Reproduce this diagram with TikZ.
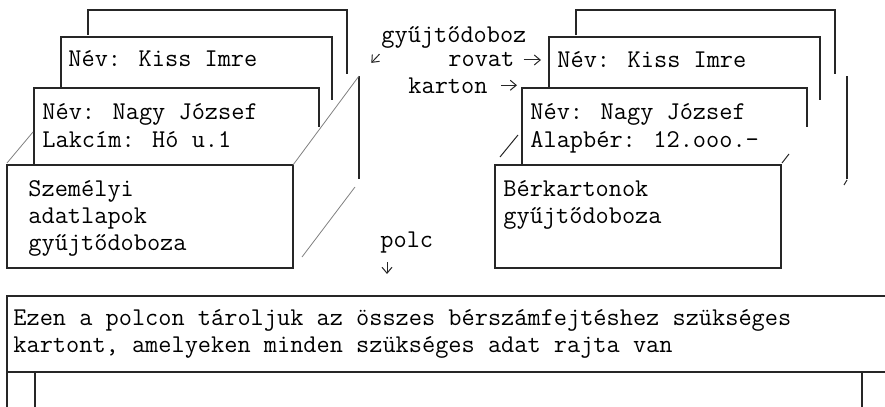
\documentclass[tikz,border=0pt]{standalone}
\usetikzlibrary{arrows.meta}
\tikzset{
  txt/.style={font=\ttfamily\fontsize{12.8}{13.5}\selectfont, anchor=base west, inner sep=0pt, align=left},
  vonal/.style={line width=0.8pt, black!85},
  halvany/.style={line width=0.4pt, black!50},
  nyil/.style={-{Straight Barb[length=3pt,width=5pt]}, line width=0.5pt, black!85}
}
\begin{document}
\begin{tikzpicture}[x=0.5pt,y=-0.5pt]
\useasboundingbox (0,0) rectangle (885,407);
\foreach \s in {0,488} {
  \begin{scope}[shift={(\s,0)}]
  \draw[vonal] (88,35) |- (347,10) -- (347,74);
  \draw[vonal] (61,88) |- (332,37) -- (332,100);
  \draw[vonal] (34,165) |- (319,88) -- (319,127);
  \draw[vonal] (7,165) rectangle (293,268);
  \draw[vonal] (359,76) -- (359,179);
  \end{scope}
}
\draw[halvany] (7,163) -- (33,132);
\draw[halvany] (293,165) -- (359,76);
\draw[halvany] (302,257) -- (355,187);
\draw[vonal, line width=0.5pt] (500,157) -- (518,135);
\draw[vonal, line width=0.5pt] (782,163) -- (789,154);
\draw[vonal, line width=0.5pt] (847,180) -- (844,185);
\draw[vonal] (7,407) |- (885,296);
\draw[vonal] (7,372) -- (885,372);
\draw[vonal] (35,372) -- (35,407);
\draw[vonal] (862,372) -- (862,407);

\node[txt] (kissL) at (68,67) {Név: Kiss Imre};
\node[txt] (nagyL) at (42,147) {Név: Nagy József\\Lakcím: Hó u.1};
\node[txt] (szemelyi) at (28,250) {Személyi\\adatlapok\\gyűjtődoboza};
\node[txt] (kissR) at (557,68) {Név: Kiss Imre};
\node[txt] (nagyR) at (530,147) {Név: Nagy József\\Alapbér: 12.ooo.-};
\node[txt] (berkarton) at (503,223) {Bérkartonok\\gyűjtődoboza};
\node[txt] (doboz) at (381,42) {gyűjtődoboz};
\node[txt] (rovat) at (448,67) {rovat};
\node[txt] (karton) at (408,93) {karton};
\node[txt] (polc) at (380,247) {polc};
\node[txt] (ezen) at (13,352) {Ezen a polcon tároljuk az összes bérszámfejtéshez szükséges\\kartont, amelyeken minden szükséges adat rajta van};

\coordinate (dobozL) at (359,76);
\coordinate (polcL) at (387,296);
\draw[nyil, shorten <=4pt, shorten >=9pt] ([xshift=2pt]doboz.south west) -- (dobozL);
\draw[nyil, shorten <=4.5pt, shorten >=8pt] (rovat.east) -- (rovat.east -| kissR.west);
\draw[nyil, shorten <=6.5pt, shorten >=6.5pt] (karton.east) -- (karton.east -| nagyR.west);
\draw[nyil, shorten <=4.5pt, shorten >=11pt] (polc.south west -| polcL) -- (polcL);
\end{tikzpicture}
\end{document}
